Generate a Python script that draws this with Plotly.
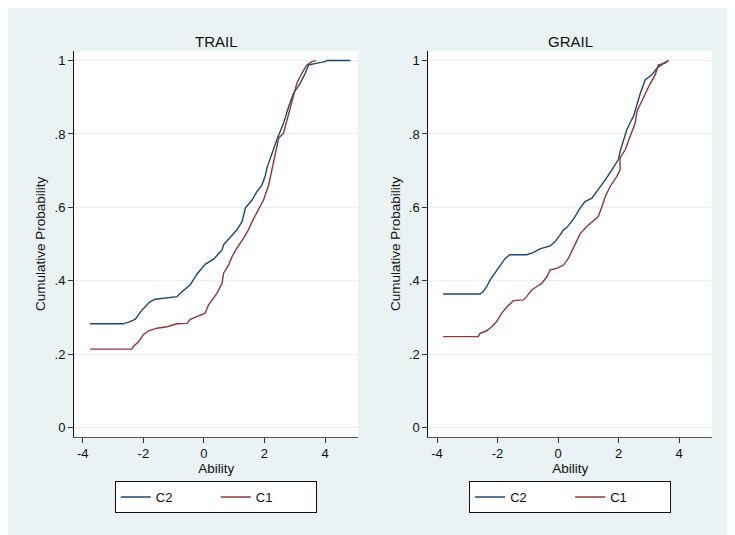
import plotly.graph_objects as go

# ---- data ----
trail_c2_x = [-3.76, -2.66, -2.44, -2.27, -2.05, -1.78, -1.61, -0.89, -0.78, -0.45, -0.23, 0.04, 0.32, 0.6, 0.65,
              0.87, 1.09, 1.26, 1.37, 1.59, 1.75, 1.92, 2.03, 2.08, 2.25, 2.41, 2.63, 2.80, 2.96, 3.18, 3.35,
              3.46, 3.74, 4.01, 4.06, 4.84]
trail_c2_y = [0.283, 0.283, 0.289, 0.295, 0.32, 0.343, 0.35, 0.357, 0.366, 0.389, 0.418, 0.445, 0.459, 0.484, 0.498,
              0.52, 0.539, 0.561, 0.598, 0.62, 0.643, 0.661, 0.687, 0.707, 0.748, 0.784, 0.829, 0.875, 0.911, 0.938, 0.966,
              0.988, 0.993, 0.997, 1.0, 1.0]

trail_c1_x = [-3.76, -2.38, -2.33, -2.16, -2.0, -1.83, -1.55, -1.22, -0.89, -0.56, -0.45, -0.23, 0.04, 0.15, 0.26,
              0.43, 0.54, 0.6, 0.65, 0.81, 0.93, 1.09, 1.31, 1.47, 1.59, 1.80, 1.97, 2.14, 2.25, 2.36, 2.47,
              2.63, 2.74, 2.91, 3.07, 3.24, 3.40, 3.57, 3.70]
trail_c1_y = [0.214, 0.214, 0.221, 0.234, 0.253, 0.264, 0.271, 0.275, 0.283, 0.284, 0.295, 0.302, 0.312, 0.334, 0.348,
              0.366, 0.384, 0.393, 0.421, 0.442, 0.466, 0.489, 0.516, 0.539, 0.561, 0.593, 0.62, 0.661, 0.702, 0.74, 0.789,
              0.802, 0.838, 0.893, 0.938, 0.966, 0.988, 0.997, 1.0]

grail_c2_x = [-3.80, -2.58, -2.47, -2.36, -2.25, -2.09, -1.92, -1.75, -1.59, -1.04, -0.82, -0.6, -0.26, -0.1, 0.07,
              0.18, 0.29, 0.51, 0.73, 0.89, 1.12, 1.33, 1.56, 1.78, 2.0, 2.05, 2.16, 2.27, 2.44, 2.49,
              2.72, 2.88, 3.10, 3.27, 3.49, 3.65]
grail_c2_y = [0.364, 0.364, 0.371, 0.384, 0.402, 0.421, 0.439, 0.461, 0.471, 0.471, 0.477, 0.487, 0.495, 0.507, 0.525,
              0.539, 0.545, 0.568, 0.598, 0.616, 0.625, 0.648, 0.675, 0.702, 0.731, 0.752, 0.784, 0.811, 0.840, 0.847,
              0.911, 0.947, 0.961, 0.979, 0.993, 1.0]

grail_c1_x = [-3.80, -2.64, -2.58, -2.36, -2.2, -2.03, -1.86, -1.70, -1.48, -1.15, -1.04, -0.87, -0.71, -0.54, -0.37,
              -0.26, -0.04, 0.18, 0.34, 0.51, 0.73, 0.95, 1.12, 1.33, 1.45, 1.56, 1.72, 1.94, 2.05, 2.05,
              2.22, 2.38, 2.55, 2.61, 2.88, 3.05, 3.21, 3.32, 3.54, 3.65]
grail_c1_y = [0.248, 0.248, 0.257, 0.264, 0.274, 0.289, 0.312, 0.328, 0.346, 0.348, 0.357, 0.375, 0.384, 0.393, 0.411,
              0.43, 0.434, 0.443, 0.461, 0.489, 0.528, 0.548, 0.561, 0.575, 0.602, 0.629, 0.657, 0.684, 0.702, 0.735,
              0.757, 0.795, 0.830, 0.862, 0.911, 0.938, 0.961, 0.988, 0.993, 1.0]

panel_titles = ["TRAIL", "GRAIL"]
series_names = ["C2", "C1"]
x_ticks = [-4, -2, 0, 2, 4]
x_ticklabels = ["-4", "-2", "0", "2", "4"]
y_ticks = [0, 0.2, 0.4, 0.6, 0.8, 1.0]
y_ticklabels = ["0", ".2", ".4", ".6", ".8", "1"]

NAVY = "#1a476f"
MAROON = "#90353b"
BG = "#EAF2F3"
GRID = "#E6EEF0"
FONT = "Liberation Sans, Arial, sans-serif"

# page body has an 8px margin; the figure fills the rest of the 735x535 window
OFF = 8
W, H = 735 - OFF, 535 - OFF


def px(x):
    return (x - OFF) / W


def py(y):
    return 1 - (y - OFF) / H


fig = go.Figure()

panels = [
    (trail_c2_x, trail_c2_y, trail_c1_x, trail_c1_y, "x", "y", "legend"),
    (grail_c2_x, grail_c2_y, grail_c1_x, grail_c1_y, "x2", "y2", "legend2"),
]
for c2x, c2y, c1x, c1y, xa, ya, lg in panels:
    fig.add_trace(go.Scatter(x=c2x, y=c2y, mode="lines", name=series_names[0],
                             line=dict(color=NAVY, width=1.4), xaxis=xa, yaxis=ya, legend=lg))
    fig.add_trace(go.Scatter(x=c1x, y=c1y, mode="lines", name=series_names[1],
                             line=dict(color=MAROON, width=1.4), xaxis=xa, yaxis=ya, legend=lg))

ytop = py(51)
ybot = py(436.7)
dom1 = [px(74), px(358.3)]
dom2 = [px(428.3), px(712.3)]

xcommon = dict(range=[-4.29, 5.1], tickvals=x_ticks, ticktext=x_ticklabels, ticks="outside", ticklen=5,
               tickcolor="#333", showline=True, linecolor="#555", linewidth=1, showgrid=False, zeroline=False,
               tickfont=dict(size=13, color="#111", family=FONT),
               title=dict(text="Ability", font=dict(size=13.5, color="#111", family=FONT), standoff=2))
ycommon = dict(range=[-0.0245, 1.026], tickvals=y_ticks, ticktext=y_ticklabels, ticks="outside", ticklen=5,
               tickcolor="#333", showline=True, linecolor="#111", linewidth=1, showgrid=True,
               gridcolor=GRID, gridwidth=1, zeroline=False,
               tickfont=dict(size=13, color="#111", family=FONT),
               title=dict(text="Cumulative Probability", font=dict(size=13.5, color="#111", family=FONT), standoff=5))

legend_common = dict(orientation="h", xanchor="center", y=py(481), yanchor="top",
                     bordercolor="#111", borderwidth=1, bgcolor="white", font=dict(size=13, family=FONT),
                     entrywidth=55, entrywidthmode="pixels")

fig.update_layout(
    width=W, height=H,
    margin=dict(l=0, r=0, t=0, b=0),
    paper_bgcolor=BG,
    plot_bgcolor="white",
    font=dict(family=FONT, color="#111"),
    xaxis=dict(domain=dom1, anchor="y", **xcommon),
    yaxis=dict(domain=[ybot, ytop], anchor="x", **ycommon),
    xaxis2=dict(domain=dom2, anchor="y2", **xcommon),
    yaxis2=dict(domain=[ybot, ytop], anchor="x2", **ycommon),
    legend=dict(x=px((115.3 + 316.3) / 2), **legend_common),
    legend2=dict(x=px((469.3 + 671) / 2), **legend_common),
    annotations=[
        dict(text=panel_titles[0], xref="paper", yref="paper", x=(dom1[0] + dom1[1]) / 2, y=py(41),
             showarrow=False, font=dict(size=15, color="#111", family=FONT), xanchor="center", yanchor="middle"),
        dict(text=panel_titles[1], xref="paper", yref="paper", x=(dom2[0] + dom2[1]) / 2, y=py(41),
             showarrow=False, font=dict(size=15, color="#111", family=FONT), xanchor="center", yanchor="middle"),
    ],
)

fig.write_html("out.html")
